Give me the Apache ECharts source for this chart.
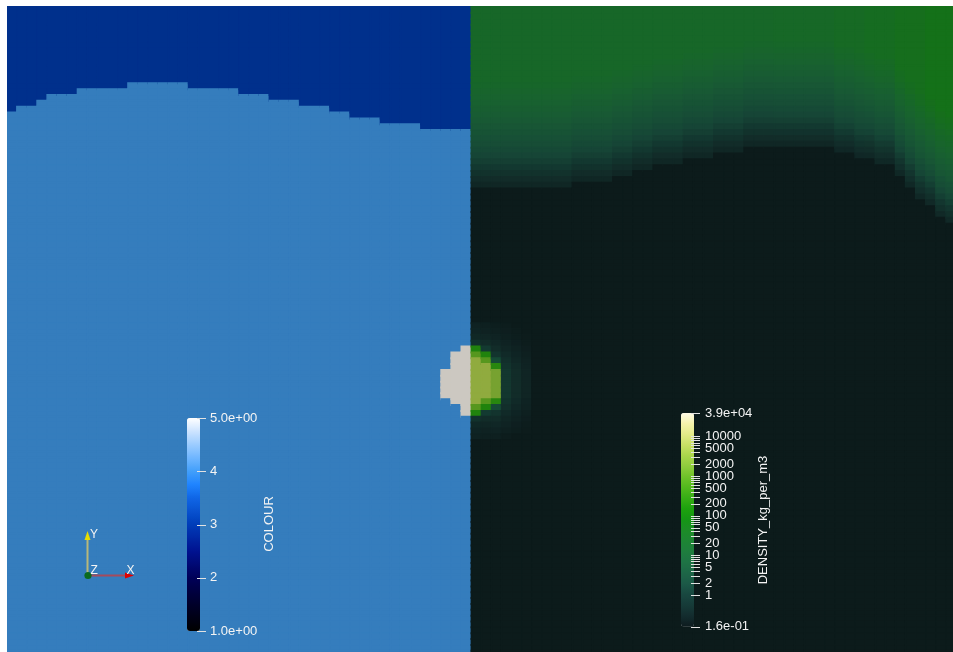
<!DOCTYPE html>
<html>
<head>
<meta charset="utf-8">
<script src="https://cdn.jsdelivr.net/npm/echarts@6/dist/echarts.min.js"></script>
<style>
  html, body { margin: 0; padding: 0; background: #ffffff; }
  #chart { width: 953px; height: 652px; }
</style>
</head>
<body>
<div id="chart"></div>
<script>
// ---------------- mesh ----------------
const colourCols = 46;          // left half: COLOUR field
const densityCols = 48;         // right half: DENSITY field
const rowCount = 112;

// ---------------- COLOUR field ----------------
const colourLevels = [3, 4, 5];           // upper layer, lower layer, droplet
// first row of the lower layer, per column (left to right)
const interfaceRow = [19,18,18,17,16,16,16,15,15,15,15,15,14,14,14,14,14,14,15,15,15,15,15,16,16,16,17,17,17,18,18,18,19,19,20,20,20,21,21,21,21,22,22,22,22,22];
// droplet cells: [column, first row, last row]
const colourDroplet = [[43, 63, 67], [44, 60, 68], [45, 59, 70]];

// ---------------- DENSITY field (kg/m3) ----------------
const densityAmbient = 0.2;
// first row of the low-density region, per column
const darkStartRow = [32,32,32,32,32,32,32,32,32,32,31,31,31,31,30,30,29,29,28,28,28,27,27,27,26,26,26,25,25,25,25,25,25,25,25,25,26,26,27,27,28,28,30,32,34,35,37,38];
// density of the upper layer, per column
const densityTop = [21,21,21,21,21,21,21,21,21,21,21,21,21,21,21,21,21,21,21,21,21,21,21,21,21,21,21,21,21,21,23,23,23,23,23,23,27,27,27,33,33,33,42,42,42,52,52,52];
// transition band above the low-density region (log fraction, row 1 = just above)
const bandShape = [0.13,0.2,0.27,0.35,0.42,0.48,0.53,0.58,0.62,0.66,0.70,0.74,0.78,0.82,0.86,0.90,0.94,0.97];
// droplet and surrounding cells, rows 55..74, columns next to the axis
const dropletStartRow = 55;
const dropletDensity = [
  [0.28,0.32,0.4,0.7,200,900,4000,4000,4000,4000,4000,4000,4000,4000,900,200,0.7,0.4,0.32,0.28],
  [0.26,0.28,0.35,0.5,1.1,200,900,4000,4000,4000,4000,4000,4000,900,200,1.1,0.5,0.35,0.28,0.26],
  [0.23,0.26,0.3,0.38,0.5,0.8,2.5,250,2000,2000,2000,2000,2000,250,2.5,0.8,0.5,0.38,0.3,0.26],
  [0.22,0.24,0.26,0.3,0.36,0.45,0.6,0.75,0.95,0.95,0.95,0.95,0.95,0.75,0.6,0.45,0.36,0.3,0.26,0.22],
  [0.2,0.22,0.23,0.25,0.28,0.32,0.38,0.45,0.5,0.5,0.5,0.5,0.5,0.45,0.38,0.32,0.28,0.25,0.23,0.2],
  [0.2,0.2,0.21,0.22,0.24,0.26,0.28,0.3,0.33,0.33,0.33,0.33,0.33,0.3,0.28,0.26,0.24,0.22,0.21,0.2]
];

// ---------------- scalar bars ----------------
const colourRange = [1, 5];
const colourTicks = [1, 2, 3, 4, 5];
const colourTickText = ['1.0e+00', '2', '3', '4', '5.0e+00'];

const densityRange = [0.16, 39000];
const densityTicks = [0.16, 1,2,3,4,5,6,7,8,9, 10,20,30,40,50,60,70,80,90, 100,200,300,400,500,600,700,800,900, 1000,2000,3000,4000,5000,6000,7000,8000,9000, 10000, 39000];
const densityLabels = [0.16, 1, 2, 5, 10, 20, 50, 100, 200, 500, 1000, 2000, 5000, 10000, 39000];
const densityLabelText = ['1.6e-01','1','2','5','10','20','50','100','200','500','1000','2000','5000','10000','3.9e+04'];

// ---------------- colour maps ----------------
const colourStops = [[1,'#000000'],[1.5,'#00002a'],[2,'#000058'],[2.5,'#001290'],[3,'#003db9'],[3.5,'#0f66e6'],[3.75,'#1f84ff'],[4,'#429ffa'],[4.25,'#6fb6ff'],[4.5,'#9cccff'],[4.75,'#cde4ff'],[5,'#ffffff']];
// Linear Green (Gr4L), evenly spaced over log10(density)
const greenMap = ['#0e1c1f','#132c2e','#163b38','#184740','#1c5947','#1d6647','#1e7345','#1e7d3e','#1d8534','#1c8c27','#159615','#1ca10d','#36ad15','#51b81d','#6ec229','#8ecc3d','#aad64b','#c8e065','#e2eb88','#f5f2ab','#fffbe6'];
// surface shading of the rendered slice
const lightRGB = [0.80, 0.785, 0.755];

function hexToRgb(h) { return [parseInt(h.slice(1,3),16), parseInt(h.slice(3,5),16), parseInt(h.slice(5,7),16)]; }
function rgbToHex(c) { return '#' + c.map(v => Math.max(0, Math.min(255, Math.round(v))).toString(16).padStart(2,'0')).join(''); }
function sampleStops(stops, n) {
  const lo = stops[0][0], hi = stops[stops.length-1][0];
  const out = [];
  for (let i = 0; i < n; i++) {
    const v = lo + (hi - lo) * i / (n - 1);
    let s = 0;
    while (s < stops.length - 2 && v > stops[s+1][0]) s++;
    const a = stops[s], b = stops[s+1];
    const t = (v - a[0]) / (b[0] - a[0]);
    const ca = hexToRgb(a[1]), cb = hexToRgb(b[1]);
    out.push(rgbToHex(ca.map((x, k) => x + (cb[k] - x) * t)));
  }
  return out;
}
function shade(list) { return list.map(h => rgbToHex(hexToRgb(h).map((v, k) => v * lightRGB[k]))); }

const colourBarRamp = sampleStops(colourStops, 81);
const colourFieldRamp = shade(colourBarRamp);
const densityBarRamp = greenMap;
const densityFieldRamp = shade(greenMap);
const logMin = Math.log10(densityRange[0]), logMax = Math.log10(densityRange[1]);

// one heatmap cell, filled through the colour scale; a border of the same
// colour closes the anti-aliasing seams between neighbouring cells
function cell(x, y, v, lo, hi, ramp) {
  const c = echarts.color.lerp((v - lo) / (hi - lo), ramp);
  return { value: [x, y, v], itemStyle: { color: c, borderColor: c, borderWidth: 1.5 } };
}

// ---------------- cell data ----------------
const colourData = [];
for (let c = 0; c < colourCols; c++) {
  for (let r = 0; r < rowCount; r++) {
    let v = r < interfaceRow[c] ? colourLevels[0] : colourLevels[1];
    for (const d of colourDroplet) if (d[0] === c && r >= d[1] && r <= d[2]) v = colourLevels[2];
    colourData.push(cell(c, r, v, colourRange[0], colourRange[1], colourFieldRamp));
  }
}
const densityData = [];
for (let j = 0; j < densityCols; j++) {
  for (let r = 0; r < rowCount; r++) {
    const k = darkStartRow[j] - r;
    let d;
    if (k <= 0) d = densityAmbient;
    else if (k > bandShape.length) d = densityTop[j];
    else d = densityAmbient * Math.pow(densityTop[j] / densityAmbient, bandShape[k - 1]);
    const dr = r - dropletStartRow;
    if (j < dropletDensity.length && dr >= 0 && dr < dropletDensity[j].length) d = dropletDensity[j][dr];
    densityData.push(cell(colourCols + j, r, Math.log10(d), logMin, logMax, densityFieldRamp));
  }
}

const xCats = Array.from({length: colourCols + densityCols}, (_, i) => i);
const yCats = Array.from({length: rowCount}, (_, i) => i);
const font = '"Liberation Sans", Arial, sans-serif';
const textColor = '#f4f4f4';
const tickColor = '#e2e2e2';

const chart = echarts.init(document.getElementById('chart'), null, { renderer: 'canvas' });
chart.setOption({
  animation: false,
  backgroundColor: '#ffffff',
  grid: [
    { left: 7, top: 1.4, width: 94 * 10.1, height: rowCount * 5.85, show: false, outerBoundsMode: 'none' },
    { left: 187, top: 418, width: 13, height: 213, outerBoundsMode: 'none' },
    { left: 681, top: 413, width: 13, height: 213.5, outerBoundsMode: 'none' }
  ],
  xAxis: [
    { type: 'category', gridIndex: 0, data: xCats, show: false },
    { type: 'value', gridIndex: 1, show: false, min: 0, max: 1 },
    { type: 'value', gridIndex: 2, show: false, min: 0, max: 1 }
  ],
  yAxis: [
    { type: 'category', gridIndex: 0, data: yCats, inverse: true, show: false },
    {
      type: 'value', gridIndex: 1, min: colourRange[0], max: colourRange[1], position: 'right', offset: 6, z: 10,
      axisLine: { show: false }, splitLine: { show: false }, axisTick: { show: false },
      axisLabel: {
        customValues: colourTicks, margin: 4, color: textColor, fontSize: 13, fontFamily: font,
        formatter: v => colourTickText[colourTicks.findIndex(t => Math.abs(t - v) < 1e-6)]
      }
    },
    {
      type: 'value', gridIndex: 2, min: logMin, max: logMax, position: 'right', offset: 6, z: 10,
      axisLine: { show: false }, splitLine: { show: false }, axisTick: { show: false },
      axisLabel: {
        customValues: densityLabels.map(Math.log10), margin: 5, color: textColor, fontSize: 13, fontFamily: font,
        formatter: v => densityLabelText[densityLabels.findIndex(t => Math.abs(Math.log10(t) - v) < 1e-6)]
      }
    }
  ],
  visualMap: [
    { type: 'continuous', show: true, seriesIndex: [], min: colourRange[0], max: colourRange[1], inRange: { color: colourBarRamp },
      left: 187, top: 418, itemWidth: 13, itemHeight: 213, padding: 0, text: null, calculable: false, hoverLink: false, z: 5 },
    { type: 'continuous', show: true, seriesIndex: [], min: logMin, max: logMax, inRange: { color: densityBarRamp },
      left: 681, top: 413, itemWidth: 13, itemHeight: 213.5, padding: 0, text: null, calculable: false, hoverLink: false, z: 5 }
  ],
  series: [
    { name: 'COLOUR', type: 'heatmap', xAxisIndex: 0, yAxisIndex: 0, data: colourData, progressive: 0, silent: true, emphasis: { disabled: true } },
    { name: 'DENSITY_kg_per_m3', type: 'heatmap', xAxisIndex: 0, yAxisIndex: 0, data: densityData, progressive: 0, silent: true, emphasis: { disabled: true } }
  ]
});

// scalar-bar tick marks, placed through the bar axes
function tickLines(axisIndex, values, x1, x2) {
  return values.map(v => {
    const y = Math.round(chart.convertToPixel({ yAxisIndex: axisIndex }, v)) + 0.5;
    return { type: 'line', shape: { x1: x1, y1: y, x2: x2, y2: y }, style: { stroke: tickColor, lineWidth: 1 }, z: 60, silent: true };
  });
}

chart.setOption({
  graphic: [
    // frame margins of the render view
    { type: 'rect', shape: { x: 0, y: 0, width: 953, height: 6 }, style: { fill: '#ffffff' }, z: 100, silent: true },
    { type: 'rect', shape: { x: 0, y: 0, width: 7, height: 652 }, style: { fill: '#ffffff' }, z: 100, silent: true },
    ...tickLines(1, colourTicks, 197, 206),
    ...tickLines(2, densityTicks.map(Math.log10), 691, 700),
    // scalar bar titles
    { type: 'text', x: 269, y: 524, rotation: Math.PI / 2, z: 50,
      style: { text: 'COLOUR', fill: textColor, font: '13px ' + font, align: 'center', verticalAlign: 'middle' } },
    { type: 'text', x: 763, y: 520, rotation: Math.PI / 2, z: 50,
      style: { text: 'DENSITY_kg_per_m3', fill: textColor, font: '13px ' + font, align: 'center', verticalAlign: 'middle' } },
    // orientation axes
    { type: 'line', shape: { x1: 87.5, y1: 574, x2: 87.5, y2: 539 }, style: { stroke: '#b8b87a', lineWidth: 2 }, z: 50 },
    { type: 'polygon', shape: { points: [[84.5, 540], [90.5, 540], [87.5, 531]] }, style: { fill: '#e6dc00' }, z: 51 },
    { type: 'line', shape: { x1: 90, x2: 126, y1: 575.5, y2: 575.5 }, style: { stroke: '#a54a5c', lineWidth: 2 }, z: 50 },
    { type: 'polygon', shape: { points: [[125, 572.5], [125, 578.5], [134, 575.5]] }, style: { fill: '#e00000' }, z: 51 },
    { type: 'circle', shape: { cx: 88, cy: 575.5, r: 3.6 }, style: { fill: '#0b6a1e' }, z: 52 },
    { type: 'text', x: 90, y: 529, z: 52, style: { text: 'Y', fill: textColor, font: '12px ' + font } },
    { type: 'text', x: 90.5, y: 564.5, z: 52, style: { text: 'Z', fill: textColor, font: '12px ' + font } },
    { type: 'text', x: 126.5, y: 564.5, z: 52, style: { text: 'X', fill: textColor, font: '12px ' + font } }
  ]
});
</script>
</body>
</html>
